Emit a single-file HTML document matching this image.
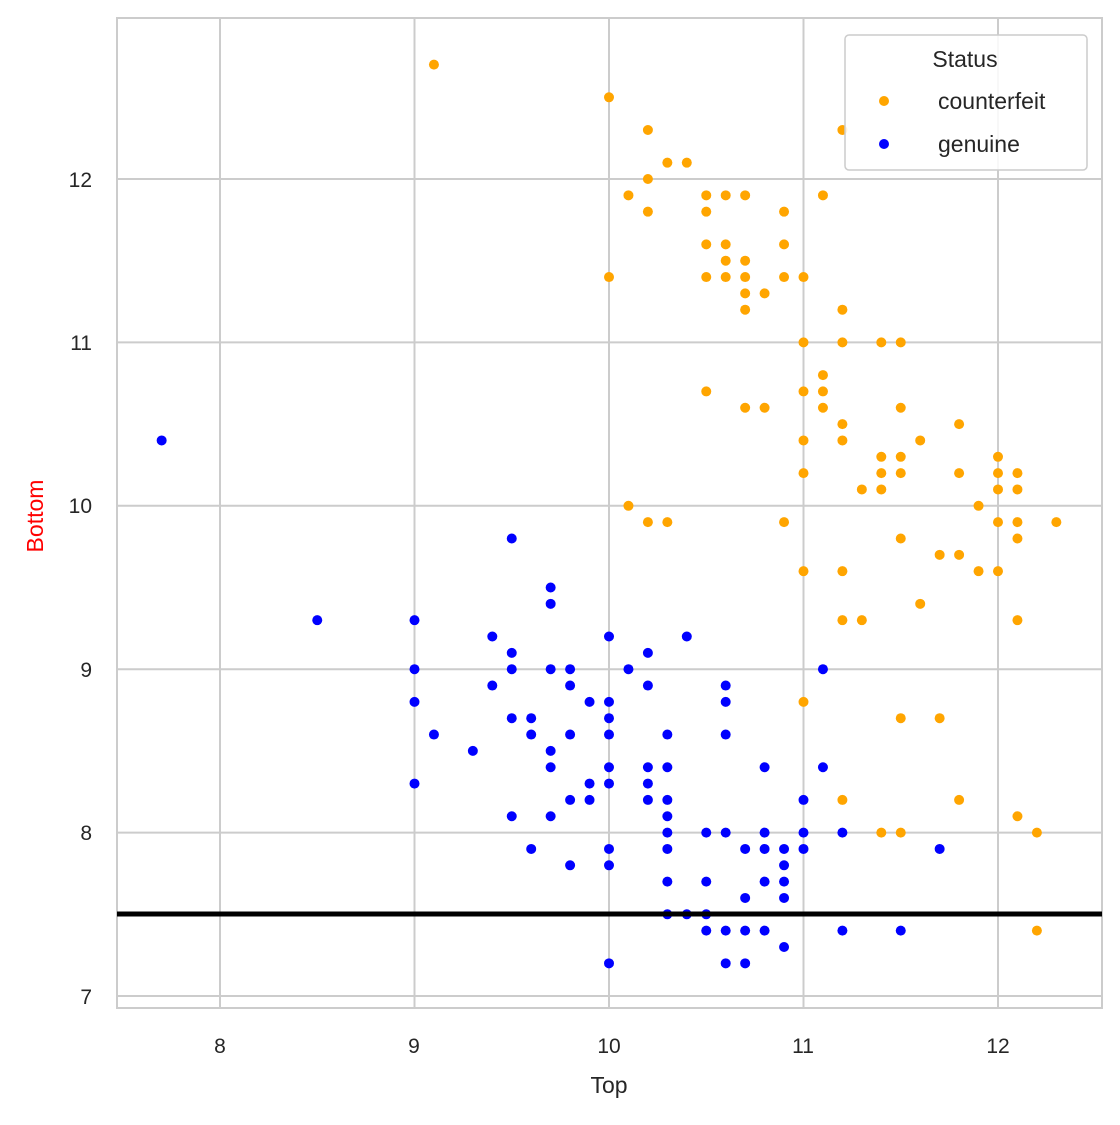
<!DOCTYPE html>
<html><head><meta charset="utf-8"><style>
html,body{margin:0;padding:0;background:#fff;}
svg text{font-family:"Liberation Sans",Arial,sans-serif;fill:#262626;}
</style></head><body>
<svg id="s" width="1120" height="1120" xmlns="http://www.w3.org/2000/svg">
<rect x="0" y="0" width="1120" height="1120" fill="#fff"/>
<g id="grid" stroke="#cccccc" stroke-width="2"></g>
<rect x="117" y="18" width="985" height="990" fill="none" stroke="#cccccc" stroke-width="2"/>
<g id="pts"></g>
<line x1="117" y1="914" x2="1102" y2="914" stroke="#000" stroke-width="5"/>
<g font-size="21" text-anchor="middle">
<text x="220" y="1053">8</text><text x="414" y="1053">9</text><text x="609" y="1053">10</text><text x="803" y="1053">11</text><text x="998" y="1053">12</text>
</g>
<g font-size="21" text-anchor="end">
<text x="92" y="1004">7</text><text x="92" y="840">8</text><text x="92" y="677">9</text><text x="92" y="513">10</text><text x="92" y="350">11</text><text x="92" y="187">12</text>
</g>
<text x="609" y="1093" font-size="23" text-anchor="middle">Top</text>
<text x="0" y="0" font-size="23" text-anchor="middle" transform="translate(43,516) rotate(-90)" style="fill:#ff0000">Bottom</text>
<rect x="845" y="35" width="242" height="135" rx="4" fill="#fff" fill-opacity="0.85" stroke="#cccccc" stroke-width="1.5"/>
<text x="965" y="67" font-size="23" text-anchor="middle">Status</text>
<circle cx="884" cy="101" r="5" fill="orange"/>
<circle cx="884" cy="144" r="5" fill="blue"/>
<text x="938" y="109" font-size="23">counterfeit</text>
<text x="938" y="152" font-size="23">genuine</text>
</svg>
<script>
var X=v=>220+(v-8)*194.5, Y=v=>996-(v-7)*163.4;
var g=document.getElementById('grid'),h='';
[8,9,10,11,12].forEach(v=>h+=`<line x1="${X(v)}" y1="18" x2="${X(v)}" y2="1008"/>`);
[7,8,9,10,11,12].forEach(v=>h+=`<line x1="117" y1="${Y(v)}" x2="1102" y2="${Y(v)}"/>`);
g.innerHTML=h;
var o=[9.1,12.7,10,12.5,10.2,12.3,11.2,12.3,10.3,12.1,10.4,12.1,10.2,12.0,10.1,11.9,10.5,11.9,10.6,11.9,10.7,11.9,11.1,11.9,10.2,11.8,10.5,11.8,10.9,11.8,10.5,11.6,10.6,11.6,10.9,11.6,10.6,11.5,10.7,11.5,10,11.4,10.5,11.4,10.6,11.4,10.7,11.4,10.9,11.4,11,11.4,10.7,11.3,10.8,11.3,10.7,11.2,11.2,11.2,11,11.0,11.2,11.0,11.4,11.0,11.5,11.0,11.1,10.8,10.5,10.7,11,10.7,11.1,10.7,10.7,10.6,10.8,10.6,11.1,10.6,11.5,10.6,11.2,10.5,11.8,10.5,11,10.4,11.2,10.4,11.6,10.4,11.4,10.3,11.5,10.3,12,10.3,11,10.2,11.4,10.2,11.5,10.2,11.8,10.2,12,10.2,12.1,10.2,11.3,10.1,11.4,10.1,12,10.1,12.1,10.1,10.1,10.0,11.9,10.0,10.2,9.9,10.3,9.9,10.9,9.9,12,9.9,12.1,9.9,12.3,9.9,11.5,9.8,12.1,9.8,11.7,9.7,11.8,9.7,11,9.6,11.2,9.6,11.9,9.6,12,9.6,11.6,9.4,11.2,9.3,11.3,9.3,12.1,9.3,11,8.8,11.5,8.7,11.7,8.7,11.2,8.2,11.8,8.2,12.1,8.1,11.4,8.0,11.5,8.0,12.2,8.0,12.2,7.4];
var b=[7.7,10.4,9.5,9.8,9.7,9.5,9.7,9.4,8.5,9.3,9,9.3,9.4,9.2,10,9.2,10.4,9.2,9.5,9.1,10.2,9.1,9,9.0,9.5,9.0,9.7,9.0,9.8,9.0,10.1,9.0,11.1,9.0,9.4,8.9,9.8,8.9,10.2,8.9,10.6,8.9,9,8.8,9.9,8.8,10,8.8,10.6,8.8,9.5,8.7,9.6,8.7,10,8.7,9.1,8.6,9.6,8.6,9.8,8.6,10,8.6,10.3,8.6,10.6,8.6,9.3,8.5,9.7,8.5,9.7,8.4,10,8.4,10.2,8.4,10.3,8.4,10.8,8.4,11.1,8.4,9,8.3,9.9,8.3,10,8.3,10.2,8.3,9.8,8.2,9.9,8.2,10.2,8.2,10.3,8.2,11,8.2,9.5,8.1,9.7,8.1,10.3,8.1,10.3,8.0,10.5,8.0,10.6,8.0,10.8,8.0,11,8.0,11.2,8.0,9.6,7.9,10,7.9,10.3,7.9,10.7,7.9,10.8,7.9,10.9,7.9,11,7.9,11.7,7.9,9.8,7.8,10,7.8,10.9,7.8,10.3,7.7,10.5,7.7,10.8,7.7,10.9,7.7,10.7,7.6,10.9,7.6,10.3,7.5,10.4,7.5,10.5,7.5,10.5,7.4,10.6,7.4,10.7,7.4,10.8,7.4,11.2,7.4,11.5,7.4,10.9,7.3,10,7.2,10.6,7.2,10.7,7.2];
var p='';
for(var i=0;i<o.length;i+=2)p+=`<circle cx="${X(o[i])}" cy="${Y(o[i+1])}" r="5" fill="orange"/>`;
for(var i=0;i<b.length;i+=2)p+=`<circle cx="${X(b[i])}" cy="${Y(b[i+1])}" r="5" fill="blue"/>`;
document.getElementById('pts').innerHTML=p;
</script>
</body></html>
